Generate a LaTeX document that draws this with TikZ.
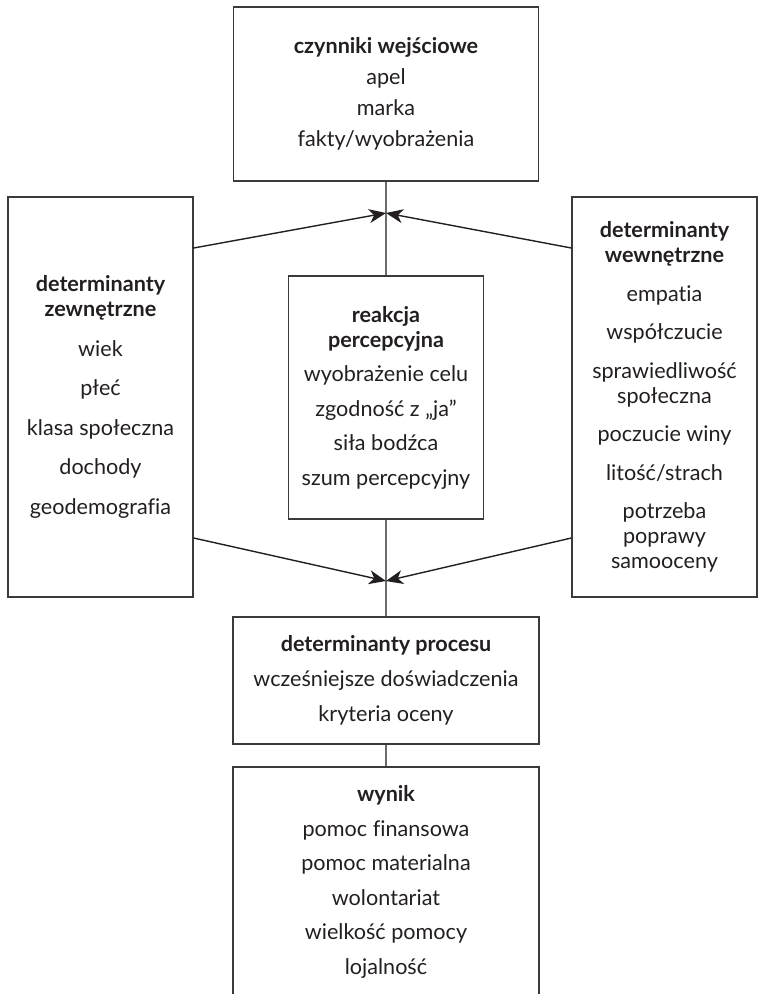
\documentclass[tikz,border=0pt]{standalone}
\usepackage{fontspec}
\setmainfont{Lato}[Ligatures=NoCommon]
\usetikzlibrary{arrows.meta}
\definecolor{ink}{HTML}{231F20}
\definecolor{frame}{HTML}{3A3A3A}
\definecolor{stemgray}{HTML}{6B6B6B}
\begin{document}
\begin{tikzpicture}[x=1pt,y=-1pt,
  box/.style={draw=frame, line width=1.3pt, rectangle, inner sep=0pt,
    align=center, text=ink, font=\fontsize{21.6}{25}\selectfont},
  stemline/.style={draw=stemgray, line width=2pt},
  feed/.style={draw=ink, line width=1.4pt,
    -{Stealth[length=17pt,width=14pt,inset=5pt]}}]
\useasboundingbox (0,0) rectangle (758,994);
\clip (0,0) rectangle (758,994);

% boxes
\node[box, minimum width=305pt, minimum height=174pt] (tb) at (386,94)
  {\textbf{czynniki wejściowe}\\[6pt] apel\\[6pt] marka\\[6pt] fakty/wyobrażenia};
\node[box, minimum width=185pt, minimum height=400pt] (lb) at (100.5,397)
  {\textbf{determinanty}\\ \textbf{zewnętrzne}\\[14.5pt] wiek\\[14.5pt] płeć\\[14.5pt]
   klasa społeczna\\[14.5pt] dochody\\[14.5pt] geodemografia};
\node[box, minimum width=185pt, minimum height=400pt] (rb) at (664.5,397)
  {\textbf{determinanty}\\ \textbf{wewnętrzne}\\[13.5pt] empatia\\[13.5pt] współczucie\\[13.5pt]
   sprawiedliwość\\ społeczna\\[13.5pt] poczucie winy\\[13.5pt] litość/strach\\[13.5pt]
   potrzeba\\ poprawy\\ samooceny};
\node[box, minimum width=195pt, minimum height=243pt] (cb) at (386,397.5)
  {\textbf{reakcja}\\ \textbf{percepcyjna}\\[9.5pt] wyobrażenie celu\\[9.5pt]
   zgodność z „ja”\\[9.5pt] siła bodźca\\[9.5pt] szum percepcyjny};
\node[box, minimum width=306pt, minimum height=127pt] (pb) at (386,680.5)
  {\textbf{determinanty procesu}\\[10pt] wcześniejsze doświadczenia\\[10pt] kryteria oceny};
\node[box, minimum width=306pt, minimum height=230pt] (wb) at (386,882)
  {\textbf{wynik}\\[9.5pt] pomoc finansowa\\[9.5pt] pomoc materialna\\[9.5pt]
   wolontariat\\[9.5pt] wielkość pomocy\\[9.5pt] lojalność};

% junctions on the central stem
\coordinate (j1) at (386,213);
\coordinate (j2) at (386,581);

% central stem
\draw[stemline] (tb.south) -- (cb.north);
\draw[stemline] (cb.south) -- (pb.north);
\draw[stemline] (pb.south) -- (wb.north);

% determinants feeding the stem
\draw[feed] ([yshift=149pt]lb.east) -- (j1);
\draw[feed] ([yshift=149pt]rb.west) -- (j1);
\draw[feed] ([yshift=-141pt]lb.east) -- (j2);
\draw[feed] ([yshift=-141pt]rb.west) -- (j2);
\end{tikzpicture}
\end{document}
